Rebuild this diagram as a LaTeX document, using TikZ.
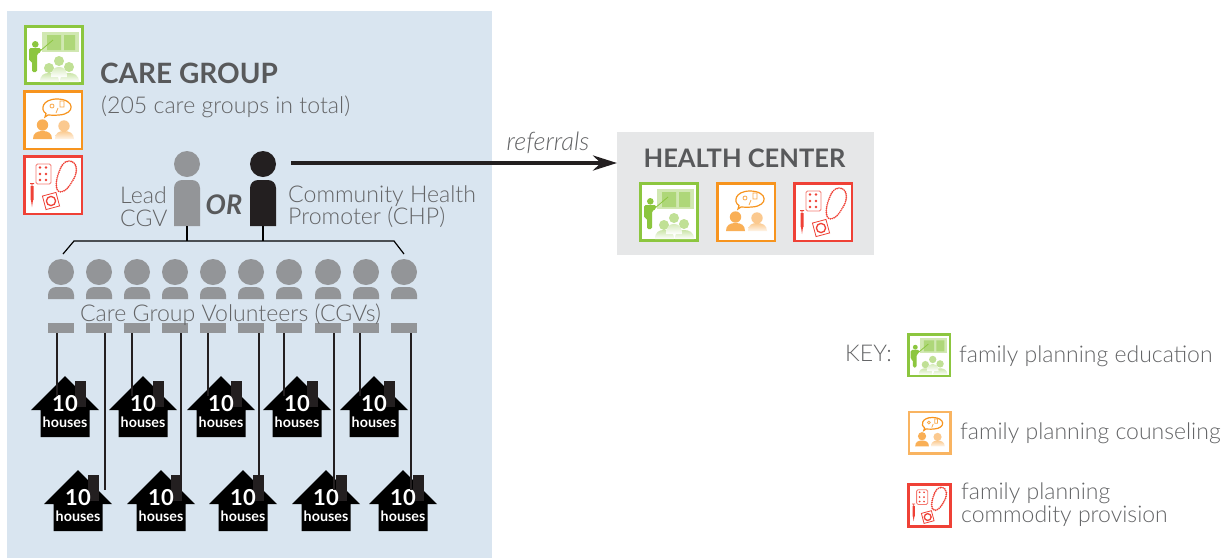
\documentclass[tikz,border=0pt]{standalone}
\usepackage{fontspec}
\setmainfont{Lato}
\newfontfamily\lightfont{Lato Light}
\usetikzlibrary{arrows.meta,positioning,calc}
\definecolor{panelblue}{HTML}{D9E5F0}
\definecolor{panelgrey}{HTML}{E6E7E8}
\definecolor{textgrey}{HTML}{636466}
\definecolor{headgrey}{HTML}{58595B}
\definecolor{persongrey}{HTML}{939598}
\definecolor{inkblack}{HTML}{231F20}
\definecolor{edugreen}{HTML}{8CC63F}
\definecolor{cnsorange}{HTML}{F7941E}
\definecolor{cmdred}{HTML}{EF4136}
\tikzset{
  label/.style={inner sep=0pt,text=textgrey,font=\lightfont\fontsize{23.1}{22.5}\selectfont,align=left},
  heading/.style={inner sep=0pt,text=headgrey,font=\bfseries\fontsize{25.5}{28}\selectfont},
  keytext/.style={label,anchor=west,font=\lightfont\fontsize{23}{22.5}\selectfont},
  personhead/.style={circle,fill=#1,inner sep=0pt,minimum size=26},
  cgvfoot/.style={rectangle,fill=persongrey,inner sep=0pt,minimum width=26,minimum height=10},
  housetext/.style={inner sep=0pt,text=white,font=\bfseries},
  treeline/.style={draw=black,line width=1.2},
  hangline/.style={draw=inkblack,line width=2},
  orangeframe/.style={draw=cnsorange},
  eduicon/.pic={
    \draw[draw=edugreen,fill=white,line width=2.8] (1.5,1.5) rectangle (58.5,58.5);
    \fill[edugreen!40] (18,7) rectangle (55,27);
    \fill[edugreen!70] (23,10) rectangle (37,25) (40,10) rectangle (51,25);
    \draw[edugreen,line width=.8] (16,26) -- (29,15);
    \fill[edugreen] (11.3,19.3) circle (3.3);
    \fill[edugreen,rounded corners=1.5] (5,36) -- (5,23) -- (17,23) -- (17,27) -- (13,29) -- (13,47) -- (8,47) -- (8,36) -- cycle;
    \fill[edugreen!55] (35,36) circle (5) (25,43) circle (5) (45,42) circle (5);
    \shade[top color=edugreen!45,bottom color=white] (16,57) .. controls (16,50) and (20,48) .. (25,48) .. controls (30,48) and (35,50) .. (35,57) -- cycle;
    \shade[top color=edugreen!45,bottom color=white] (36,57) .. controls (36,50) and (40,48) .. (45,48) .. controls (50,48) and (55,50) .. (55,57) -- cycle;
    \shade[top color=edugreen!35,bottom color=white] (27,52) .. controls (27,44) and (31,42) .. (35,42) .. controls (39,42) and (43,44) .. (43,52) -- cycle;
  },
  cnsicon/.pic={
    \draw[orangeframe,fill=white,line width=2.8] (1.5,1.5) rectangle (59,59);
    \draw[cnsorange,fill=white,line width=1.2] (22,27) -- (23,23.5) .. controls (17,20) and (19,9) .. (34,9) .. controls (52,9) and (53,24) .. (36,25) .. controls (31,25.5) and (27,25) .. (25,25) -- cycle;
    \draw[cnsorange!80,line width=.8] (37,11) rectangle (41,17) (29,16) circle (2) (35,18) -- (33,23);
    \fill[cnsorange!75] (19.5,35) circle (5.7);
    \fill[cnsorange!75] (10,49) .. controls (10,43) and (14,41) .. (19.5,41) .. controls (25,41) and (29,43) .. (29,49) -- cycle;
    \fill[cnsorange!50] (41,36) circle (5.7);
    \shade[top color=cnsorange!50,bottom color=cnsorange!10] (32,49) .. controls (32,43) and (36,41) .. (41,41) .. controls (46,41) and (51,43) .. (51,49) -- cycle;
  },
  cmdicon/.pic={
    \draw[draw=cmdred,fill=white,line width=2.8] (1.5,1.5) rectangle (59,59);
    \draw[cmdred!70,line width=.8,rounded corners=1.5] (13,9) rectangle (28,29);
    \foreach \px in {17,23}
      \foreach \py in {12.5,19,25}
        \fill[cmdred] (\px,\py) circle (1.3);
    \draw[cmdred,line width=1.9,dash pattern=on 0pt off 2pt,line cap=round] (46,6) .. controls (55,6) and (55,18) .. (50,25) .. controls (47,30) and (44,36) .. (38,37) .. controls (31,37) and (33,24) .. (36,17) .. controls (38,11) and (41,6) .. (46,6);
    \fill[cmdred] (7.5,31) rectangle (10.5,45) (7,28) rectangle (11,29) (8.6,29) rectangle (9.4,31) (8,45) -- (10,45) -- (9,52) -- cycle;
    \draw[cmdred,line width=.8,rotate around={15:(28,46)}] (21,39) rectangle (35,53);
    \draw[cmdred,line width=1.3] (28,46) circle (4.6);
  }
}
\newcommand{\housedraw}[3]{%
  \begin{scope}[shift={(#2,#3)}]
    \fill[black] (0,0) -- (34,34) -- (24.5,34) -- (24.5,61) -- (-24.5,61) -- (-24.5,34) -- (-34,34) -- cycle;
    \fill[inkblack] (10,5) rectangle (21,31);
    \node[housetext,font=\bfseries\fontsize{22}{22}\selectfont] (#1) at (0,28) {10};
    \node[housetext,font=\bfseries\fontsize{14.3}{15}\selectfont] (#1t) at (0,46) {houses};
  \end{scope}}

\begin{document}
\begin{tikzpicture}[x=1pt,y=-1pt]
\useasboundingbox (0,0) rectangle (1221,558);
\fill[panelblue] (7,11) rectangle (492,558);
\node[fill=panelgrey,inner sep=0pt,outer sep=0pt,minimum width=257,minimum height=123] (hc) at (745.5,193.5) {};

\pic at (24,25) {eduicon};
\pic at (23,90) {cnsicon};
\pic at (23,155) {cmdicon};
\node[heading,anchor=west,font=\bfseries\fontsize{28}{30}\selectfont] (cgtitle) at (100,73) {CARE GROUP};
\node[label,anchor=west] (cgtotal) at (101,107) {(205 care groups in total)};

% lead CGV or CHP
\node[personhead=persongrey] (leadh) at (187,164) {};
\fill[persongrey] (174,226) [rounded corners=8] -- (174,180) -- (200,180) [sharp corners] -- (200,226) -- cycle;
\node[personhead=inkblack] (chph) at (263,164) {};
\fill[inkblack] (250,226) [rounded corners=8] -- (250,180) -- (276,180) [sharp corners] -- (276,226) -- cycle;
\coordinate (leadf) at (187,226);
\coordinate (chpf) at (263,226);
\node[label,anchor=west] (leadt) at (120,206.5) {Lead\\CGV};
\node[inner sep=0pt,text=headgrey,font=\bfseries\itshape\fontsize{27}{30}\selectfont] (ort) at (224,205) {OR};
\node[label,anchor=west] (chpt) at (288,206.5) {Community Health\\Promoter (CHP)};

\coordinate (barlo) at (63,254);
\coordinate (barl) at (74,241);
\coordinate (barr) at (394,241);
\coordinate (barro) at (404,254);
\draw[treeline] (barlo) -- (barl) -- (barr) -- (barro);
\draw[treeline] (leadf) -- (leadf |- barl);
\draw[treeline] (chpf) -- (chpf |- barl);

% volunteers
\foreach \i/\x in {1/61,2/99,3/137,4/175,5/213,6/251,7/289,8/328,9/366,10/404}{
  \node[personhead=persongrey] (cgvh\i) at (\x,272) {};
  \fill[persongrey] (\x-13,299) [rounded corners=8] -- (\x-13,287) -- (\x+13,287) [sharp corners] -- (\x+13,299) -- cycle;
  \node[cgvfoot] (cgv\i) at (\x,328) {};
}
\node[label] (cgvt) at (230.5,314.5) {Care Group Volunteers (CGVs)};

% houses
\foreach \i/\x in {1/65,2/143,3/221,4/297,5/374}{
  \housedraw{hu\i}{\x}{376}
}
\foreach \i/\x in {1/78,2/161,3/243,4/326,5/403}{
  \housedraw{hl\i}{\x}{470}
}
\foreach \i/\d/\h in {1/-4/hu1,3/-5/hu2,5/-5/hu3,7/-5/hu4,9/-6/hu5,2/6/hl1,4/6/hl2,6/8/hl3,8/6/hl4,10/7/hl5}{
  \draw[hangline] ([xshift=\d]cgv\i.south) -- ([xshift=\d]cgv\i.south |- \h.north);
}

% referral
\coordinate (chpout) at (291,163);
\draw[line width=4,draw=inkblack,-{Stealth[length=24,width=15]}] (chpout) -- (chpout -| hc.west);
\node[label,font=\lightfont\itshape\fontsize{25.5}{23}\selectfont] (reft) at (548,143) {referrals};

\node[heading] (hct) at (744.5,158) {HEALTH CENTER};
\pic at (639,182) {eduicon};
\pic at (716,182) {cnsicon};
\pic at (793,182) {cmdicon};

% key
\node[label,anchor=west] (keyt) at (845,353) {KEY:};
\pic[scale=.735] at (907,333) {eduicon};
\pic[scale=.72,orangeframe/.style={draw=cnsorange!70}] at (908,411) {cnsicon};
\pic[scale=.74] at (907,483) {cmdicon};
\node[keytext] (keyedu) at (959,356.5) {family planning education};
\node[keytext] (keycns) at (960,433.5) {family planning counseling};
\node[keytext] (keycmd) at (961,504.5) {family planning\\commodity provision};
\end{tikzpicture}
\end{document}
